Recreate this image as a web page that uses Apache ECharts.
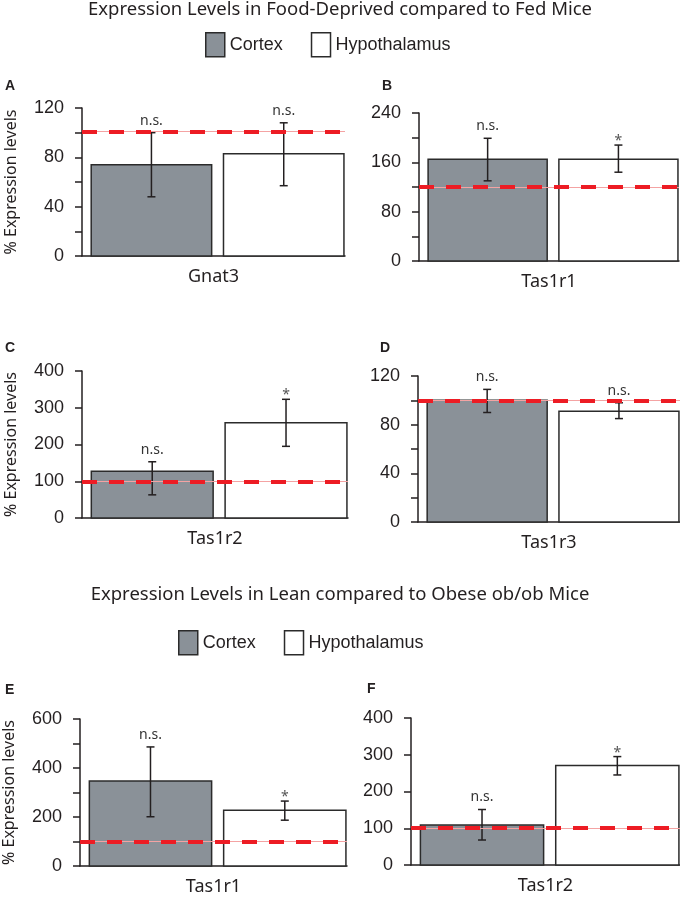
<!DOCTYPE html>
<html>
<head>
<meta charset="utf-8">
<script src="https://cdn.jsdelivr.net/npm/echarts@6/dist/echarts.min.js"></script>
<style>
  html, body { margin: 0; padding: 0; background: #fff; }
  #chart { width: 680px; height: 900px; }
</style>
</head>
<body>
<div id="chart"></div>
<script>
// one entry per panel: A, B, C, D, E, F
const categories = ['Gnat3', 'Tas1r1', 'Tas1r2', 'Tas1r3', 'Tas1r1', 'Tas1r2'];
const cortexMean = [74, 165, 127, 100, 347, 109];
const cortexLow = [48, 130, 63, 90, 201, 68];
const cortexHigh = [100, 199, 153, 109, 486, 151];
const hypoMean = [83, 165, 259, 91, 228, 271];
const hypoLow = [57, 144, 195, 85, 187, 245];
const hypoHigh = [108, 188, 323, 98, 265, 295];
const cortexMark = ['n.s.', 'n.s.', 'n.s.', 'n.s.', 'n.s.', 'n.s.'];
const hypoMark = ['n.s.', '*', '*', 'n.s.', '*', '*'];
const refLevel = [101, 120, 99, 100, 100, 101];
const axisMax = [120, 240, 400, 120, 600, 400];
const tickStep = [20, 40, 100, 20, 100, 100];
const labelStep = [40, 80, 100, 40, 200, 100];
const panelLetters = ['A', 'B', 'C', 'D', 'E', 'F'];

const layout = [
  { left: 82, top: 108, width: 263, height: 148 },
  { left: 419, top: 113, width: 260, height: 148 },
  { left: 82, top: 371, width: 266, height: 147 },
  { left: 418, top: 376, width: 262, height: 146 },
  { left: 80, top: 719, width: 267, height: 147 },
  { left: 411, top: 718, width: 269, height: 147 }
];
const letterPos = [[5, 79], [382, 79], [5, 341], [380, 341], [5, 683], [367, 682]];

const ink = '#231f20';
const edge = '#2b2b2b';
const cortexColor = '#8a9198';
// bars sit a little right of centre in the category band
const leftPad = 0.035, barFrac = 0.458, gapFrac = 0.045;
const sans = 'Liberation Sans';
const humanist = 'Noto Sans';

var myChart = echarts.init(document.getElementById('chart'), null, { renderer: 'canvas' });

function barWithError(meanArr, marks, side, fill) {
  return function (params, api) {
    var x = api.value(0);
    var band = api.size([1, 0])[0];
    var bandStart = api.coord([x, 0])[0] - band / 2;
    var barW = band * barFrac;
    var bx = bandStart + band * leftPad + side * (barW + band * gapFrac);
    var cx = bx + barW / 2;
    var y0 = api.coord([x, 0])[1];
    var yTop = api.coord([x, api.value(1)])[1];
    var yLow = api.coord([x, api.value(2)])[1];
    var yHigh = api.coord([x, api.value(3)])[1];
    var mark = marks[params.dataIndex];
    var stroke = { stroke: ink, lineWidth: 1.5 };
    var star = mark === '*';
    return {
      type: 'group',
      children: [
        {
          type: 'rect', shape: { x: bx, y: yTop, width: barW, height: y0 - yTop },
          style: { fill: fill, stroke: edge, lineWidth: 1.5 }
        },
        { type: 'line', shape: { x1: cx, y1: yLow, x2: cx, y2: yHigh }, style: stroke },
        { type: 'line', shape: { x1: cx - 4, y1: yLow, x2: cx + 4, y2: yLow }, style: stroke },
        { type: 'line', shape: { x1: cx - 4, y1: yHigh, x2: cx + 4, y2: yHigh }, style: stroke },
        {
          type: 'text',
          style: {
            text: mark, x: cx, y: star ? yHigh + 3 : yHigh - 5,
            align: 'center', verticalAlign: 'bottom',
            fontSize: 14, fontFamily: humanist, fill: star ? '#555' : '#333'
          }
        }
      ]
    };
  };
}

let grids = [], xAxes = [], yAxes = [], series = [];
let titles = [
  {
    text: 'Expression Levels in Food-Deprived compared to Fed Mice',
    left: 'center', top: 0, padding: 0,
    textStyle: { fontFamily: humanist, fontSize: 18.5, fontWeight: 'normal', color: ink }
  },
  {
    text: 'Expression Levels in Lean compared to Obese ob/ob Mice',
    left: 'center', top: 585, padding: 0,
    textStyle: { fontFamily: humanist, fontSize: 18.5, fontWeight: 'normal', color: ink }
  }
];

categories.forEach(function (cat, i) {
  grids.push(Object.assign({ containLabel: false }, layout[i]));
  titles.push({
    text: panelLetters[i], left: letterPos[i][0], top: letterPos[i][1], padding: 0,
    textStyle: { fontFamily: sans, fontSize: 14, fontWeight: 'bold', color: ink }
  });
  xAxes.push({
    type: 'category', gridIndex: i, data: [cat],
    axisLine: { lineStyle: { color: ink, width: 1.5 } },
    axisTick: { show: false },
    axisLabel: { margin: 12, fontFamily: humanist, fontSize: 18, color: ink }
  });
  let step = labelStep[i];
  yAxes.push({
    type: 'value', gridIndex: i, min: 0, max: axisMax[i], interval: tickStep[i],
    name: i % 2 === 0 ? '% Expression levels' : '',
    nameLocation: 'middle', nameGap: 63,
    nameTextStyle: { fontFamily: humanist, fontSize: 16, color: ink },
    axisLine: { show: true, lineStyle: { color: ink, width: 1.5 } },
    axisTick: { show: true, length: 7, lineStyle: { color: ink, width: 1.5 } },
    splitLine: { show: false },
    axisLabel: {
      margin: 18, fontFamily: sans, fontSize: 18, color: ink,
      formatter: function (v) { return v % step === 0 ? String(v) : ''; }
    }
  });
  series.push({
    name: 'Cortex', type: 'custom', xAxisIndex: i, yAxisIndex: i, z: 2,
    renderItem: barWithError(cortexMean, [cortexMark[i]], 0, cortexColor),
    data: [[0, cortexMean[i], cortexLow[i], cortexHigh[i]]],
    itemStyle: { color: cortexColor, borderColor: edge, borderWidth: 1.5 },
    animation: false
  });
  series.push({
    name: 'Hypothalamus', type: 'custom', xAxisIndex: i, yAxisIndex: i, z: 2,
    renderItem: barWithError(hypoMean, [hypoMark[i]], 1, '#ffffff'),
    data: [[0, hypoMean[i], hypoLow[i], hypoHigh[i]]],
    itemStyle: { color: '#ffffff', borderColor: edge, borderWidth: 1.5 },
    animation: false
  });
  series.push({
    type: 'line', xAxisIndex: i, yAxisIndex: i, z: 5, data: [],
    markLine: {
      silent: true, symbol: 'none', animation: false,
      label: { show: false },
      data: [
        { yAxis: refLevel[i], lineStyle: { color: '#f4a3a3', width: 1, type: 'solid' } },
        { yAxis: refLevel[i], lineStyle: { color: '#ed1c24', width: 4, type: [15, 12] } }
      ]
    }
  });
});

function legendAt(left, top) {
  return {
    left: left, top: top, orient: 'horizontal', selectedMode: false,
    itemWidth: 19, itemHeight: 24, itemGap: 28, icon: 'rect', padding: 0,
    textStyle: { fontFamily: sans, fontSize: 18, color: ink },
    data: [
      { name: 'Cortex', itemStyle: { color: cortexColor, borderColor: edge, borderWidth: 1.5 } },
      { name: 'Hypothalamus', itemStyle: { color: '#ffffff', borderColor: edge, borderWidth: 1.5 } }
    ]
  };
}

let option = {
  backgroundColor: '#ffffff',
  animation: false,
  title: titles,
  legend: [legendAt(205, 32), legendAt(178, 630)],
  grid: grids,
  xAxis: xAxes,
  yAxis: yAxes,
  series: series
};
myChart.setOption(option);
</script>
</body>
</html>
